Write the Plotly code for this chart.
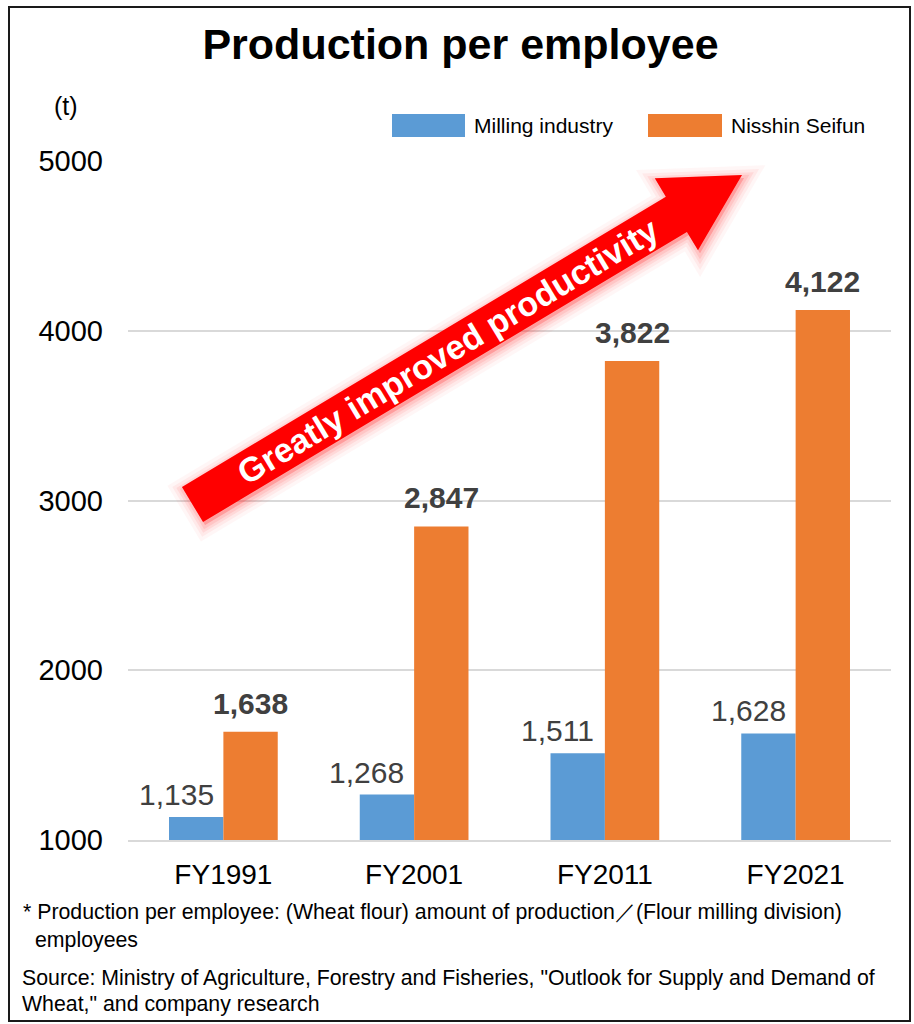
import math
import plotly.graph_objects as go

# ---------------- data ----------------
categories = ["FY1991", "FY2001", "FY2011", "FY2021"]
series_names = ["Milling industry", "Nisshin Seifun"]
milling_industry = [1135, 1268, 1511, 1628]
nisshin_seifun = [1638, 2847, 3822, 4122]
series_colors = ["#5B9BD5", "#ED7D31"]
y_ticks = [1000, 2000, 3000, 4000, 5000]
y_tick_labels = ["1000", "2000", "3000", "4000", "5000"]
title_text = "Production per employee"
unit_text = "(t)"
arrow_text = "Greatly improved productivity"
note_line1 = "* Production per employee: (Wheat flour) amount of production\uff0f(Flour milling division)"
note_line2 = "employees"
source_line1 = 'Source: Ministry of Agriculture, Forestry and Fisheries, "Outlook for Supply and Demand of'
source_line2 = 'Wheat," and company research'

# ---------------- layout geometry (pixels) ----------------
FIG_W, FIG_H = 914, 1024
PL, PR, PT, PB = 128, 891, 161, 840
PW, PH = PR - PL, PB - PT
FONT = "Liberation Sans, Arial, sans-serif"


def px(x):
    return (x - PL) / PW


def py(y):
    return (PB - y) / PH


fig = go.Figure()
fig.add_trace(go.Bar(x=categories, y=milling_industry, name=series_names[0],
                     marker=dict(color=series_colors[0], line=dict(width=0))))
fig.add_trace(go.Bar(x=categories, y=nisshin_seifun, name=series_names[1],
                     marker=dict(color=series_colors[1], line=dict(width=0))))

annotations = []
shapes = []

# value labels
bar_half = PW / len(categories) * (1 - 0.43) / 4
for c, v in zip(categories, milling_industry):
    annotations.append(dict(x=c, y=v, xref="x", yref="y", text=f"{v:,}",
                            showarrow=False, xanchor="center", yanchor="bottom",
                            xshift=-bar_half - 20, yshift=4,
                            font=dict(family=FONT, size=30, color="#404040")))
for c, v in zip(categories, nisshin_seifun):
    annotations.append(dict(x=c, y=v, xref="x", yref="y", text=f"<b>{v:,}</b>",
                            showarrow=False, xanchor="center", yanchor="bottom",
                            xshift=bar_half, yshift=10,
                            font=dict(family=FONT, size=30, color="#404040")))

# unit label
annotations.append(dict(x=px(66), y=py(106), xref="paper", yref="paper", text=unit_text,
                        showarrow=False, xanchor="center", yanchor="middle",
                        font=dict(family=FONT, size=25, color="#000000")))

# custom legend with wide swatches
legend_swatches = [(392, 465), (648, 722)]
for (x0, x1), name, col in zip(legend_swatches, series_names, series_colors):
    shapes.append(dict(type="rect", xref="paper", yref="paper",
                       x0=px(x0), x1=px(x1), y0=py(137), y1=py(114),
                       fillcolor=col, line=dict(width=0)))
    annotations.append(dict(x=px(x1 + 7), y=py(126), xref="paper", yref="paper", text=name,
                            showarrow=False, xanchor="left", yanchor="middle",
                            font=dict(family=FONT, size=21, color="#000000")))

# big red arrow
T = (192.5, 504.5)
P = (742.0, 175.0)
L = math.hypot(P[0] - T[0], P[1] - T[1])
u = ((P[0] - T[0]) / L, (P[1] - T[1]) / L)
n = (-u[1], u[0])
hw, HW, head_len = 20.5, 42.0, 76.5
base = (T[0] + (L - head_len) * u[0], T[1] + (L - head_len) * u[1])


def pt(p, s):
    return (p[0] + s * n[0], p[1] + s * n[1])


poly = [pt(T, hw), pt(T, -hw), pt(base, -hw), pt(base, -HW), P, pt(base, HW), pt(base, hw)]


def path_of(points, dx=0.0, dy=0.0):
    parts = []
    for i, (x, y) in enumerate(points):
        parts.append(("M" if i == 0 else "L") + f"{px(x + dx):.5f},{py(y + dy):.5f}")
    return " ".join(parts) + " Z"


for w, a in [(24, 0.05), (17, 0.07), (11, 0.10), (6, 0.13)]:
    shapes.append(dict(type="path", xref="paper", yref="paper", path=path_of(poly, 2, 3),
                       fillcolor=f"rgba(255,70,70,{a})",
                       line=dict(color=f"rgba(255,70,70,{a})", width=w), layer="above"))
shapes.append(dict(type="path", xref="paper", yref="paper", path=path_of(poly),
                   fillcolor="#FF0000", line=dict(width=0), layer="above"))

angle = math.degrees(math.atan2(u[1], u[0]))
mid_s = 298
cx, cy = T[0] + mid_s * u[0], T[1] + mid_s * u[1]
annotations.append(dict(x=px(cx), y=py(cy), xref="paper", yref="paper",
                        text=f"<b>{arrow_text}</b>", showarrow=False,
                        xanchor="center", yanchor="middle", textangle=angle,
                        font=dict(family=FONT, size=34, color="#FFFFFF")))

# footnotes
for txt, x, y in [(note_line1, 21, 912), (note_line2, 33, 940),
                  (source_line1, 20, 978), (source_line2, 20, 1004)]:
    annotations.append(dict(x=px(x), y=py(y), xref="paper", yref="paper", text=txt,
                            showarrow=False, xanchor="left", yanchor="middle",
                            font=dict(family=FONT, size=21.3, color="#000000")))

# frame border
shapes.append(dict(type="rect", xref="paper", yref="paper",
                   x0=px(9), x1=px(910), y0=py(1021), y1=py(7),
                   line=dict(color="#1a1a1a", width=2), fillcolor="rgba(0,0,0,0)"))

fig.update_layout(
    width=FIG_W, height=FIG_H,
    margin=dict(l=PL, r=FIG_W - PR, t=PT, b=FIG_H - PB, autoexpand=False),
    paper_bgcolor="white", plot_bgcolor="white",
    barmode="group", bargap=0.43, bargroupgap=0,
    showlegend=False,
    font=dict(family=FONT, color="#000000"),
    title=dict(text=f"<b>{title_text}</b>", x=460.5 / FIG_W, xref="container",
               xanchor="center", y=1 - 44 / FIG_H, yref="container", yanchor="middle",
               font=dict(family=FONT, size=43, color="#000000")),
    xaxis=dict(showgrid=False, showline=True, linecolor="#D9D9D9", linewidth=1.5,
               ticks="", tickfont=dict(family=FONT, size=28, color="#000000"),
               ticklabelstandoff=9),
    yaxis=dict(range=[1000, 5000], tickvals=y_ticks, ticktext=y_tick_labels,
               showgrid=True, gridcolor="#D9D9D9", gridwidth=1.5,
               showline=False, zeroline=False, ticks="",
               tickfont=dict(family=FONT, size=29, color="#000000"),
               ticklabelstandoff=24),
    annotations=annotations,
    shapes=shapes,
)

fig.write_html("out.html", config={"displayModeBar": False},
               post_script="document.body.style.margin='0';document.body.style.overflow='hidden';")
